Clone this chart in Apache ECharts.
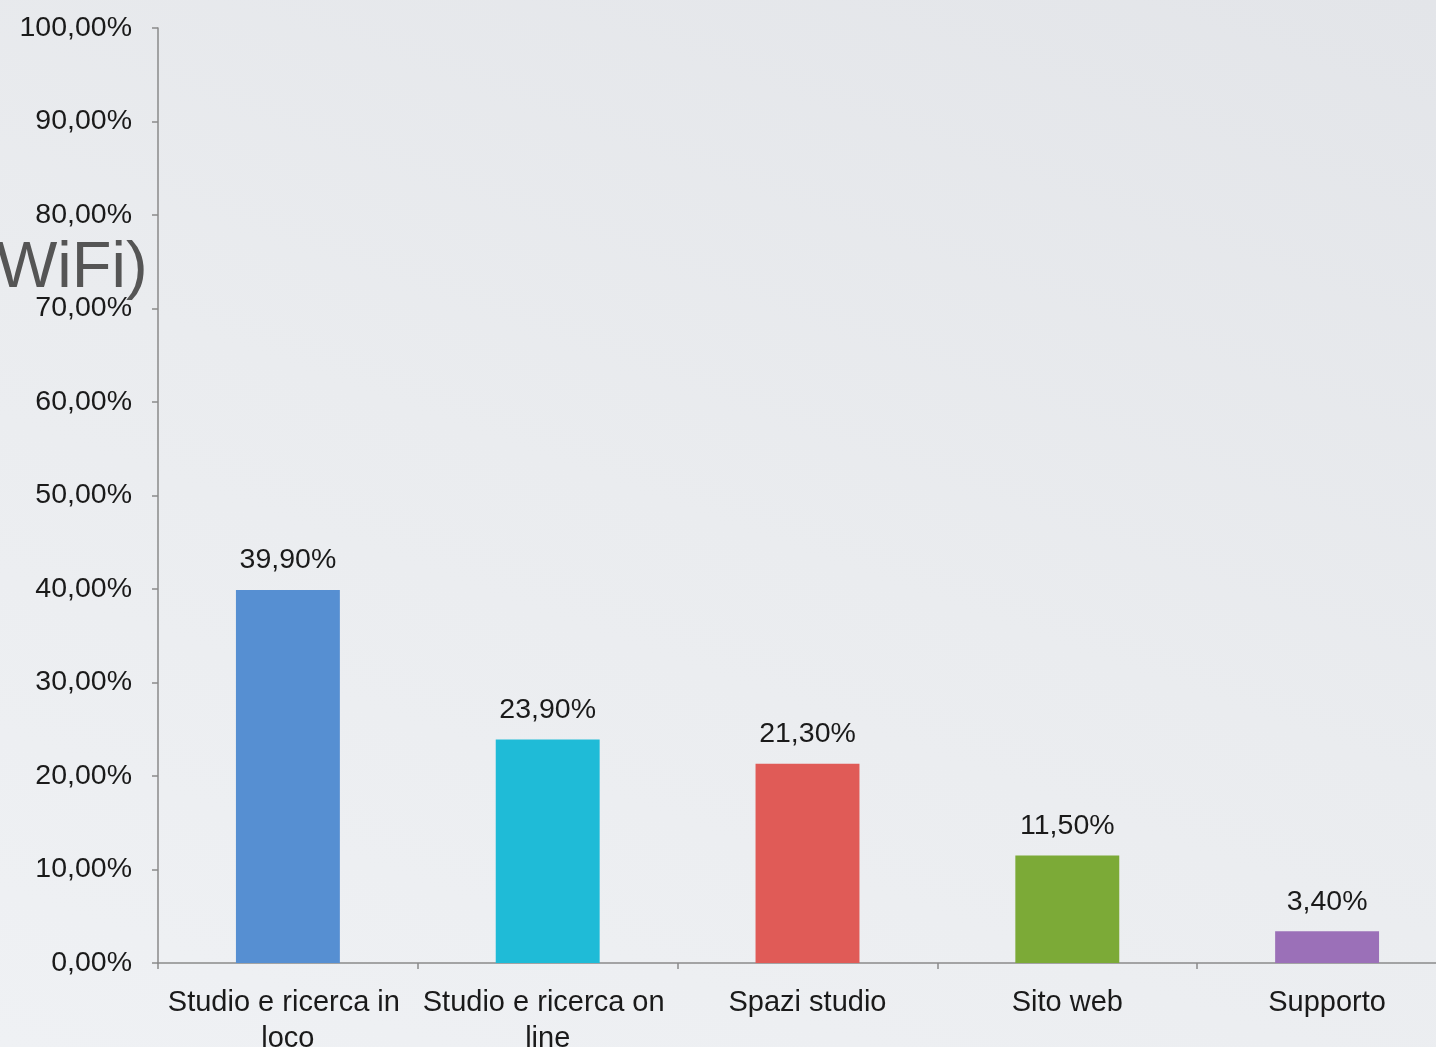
<!DOCTYPE html>
<html>
<head>
<meta charset="utf-8">
<script src="https://cdn.jsdelivr.net/npm/echarts@6/dist/echarts.min.js"></script>
<style>
  html, body { margin: 0; padding: 0; width: 1436px; height: 1047px; overflow: hidden; }
  body { background: linear-gradient(200deg, #e3e5e9 0%, #eaecef 50%, #eff1f4 100%); }
  #chart { width: 1436px; height: 1047px; }
</style>
</head>
<body>
<div id="chart"></div>
<script>
// Servizi della biblioteca: quota di risposte per ambito
const categories = ['Studio e ricerca in loco', 'Studio e ricerca on line', 'Spazi studio', 'Sito web', 'Supporto'];
const values = [39.9, 23.9, 21.3, 11.5, 3.4];
const barColors = ['#568fd2', '#1fbbd7', '#e05b57', '#7caa37', '#9b70b8'];
const yTicks = { min: 0, max: 100, interval: 10 };

const pct = v => v.toFixed(2).replace('.', ',') + '%';
const font = '"Liberation Sans", Arial, sans-serif';

const chart = echarts.init(document.getElementById('chart'));
chart.setOption({
  backgroundColor: 'transparent',
  animation: false,
  // the plot runs a little past the right edge of the page
  grid: { left: 158, width: 1299, top: 28, height: 935, outerBoundsMode: 'none', containLabel: false },
  graphic: [{
    type: 'text',
    left: -4,
    top: 237,
    style: { text: 'WiFi)', fontFamily: font, fontSize: 65, fill: '#555555' }
  }],
  xAxis: {
    type: 'category',
    data: categories,
    axisLine: { lineStyle: { color: '#8a8a8a', width: 1.5 } },
    axisTick: { show: true, length: 6, lineStyle: { color: '#8a8a8a', width: 1.5 } },
    axisLabel: {
      interval: 0,
      margin: 22,
      fontFamily: font,
      fontSize: 29,
      color: '#1a1a1a',
      lineHeight: 36,
      width: 252,
      overflow: 'break'
    }
  },
  yAxis: {
    type: 'value',
    min: yTicks.min,
    max: yTicks.max,
    interval: yTicks.interval,
    splitLine: { show: false },
    axisLine: { show: true, lineStyle: { color: '#8a8a8a', width: 1.5 } },
    axisTick: { show: true, length: 6, lineStyle: { color: '#8a8a8a', width: 1.5 } },
    axisLabel: {
      margin: 26,
      fontFamily: font,
      fontSize: 28.5,
      color: '#1a1a1a',
      padding: [5, 0, 0, 0],
      formatter: v => pct(v)
    }
  },
  series: [{
    type: 'bar',
    barWidth: '40%',
    data: values.map((v, i) => ({ value: v, itemStyle: { color: barColors[i] } })),
    label: {
      show: true,
      position: 'top',
      distance: 15,
      fontFamily: font,
      fontSize: 28.5,
      color: '#1a1a1a',
      formatter: p => pct(p.value)
    }
  }]
});
</script>
</body>
</html>
